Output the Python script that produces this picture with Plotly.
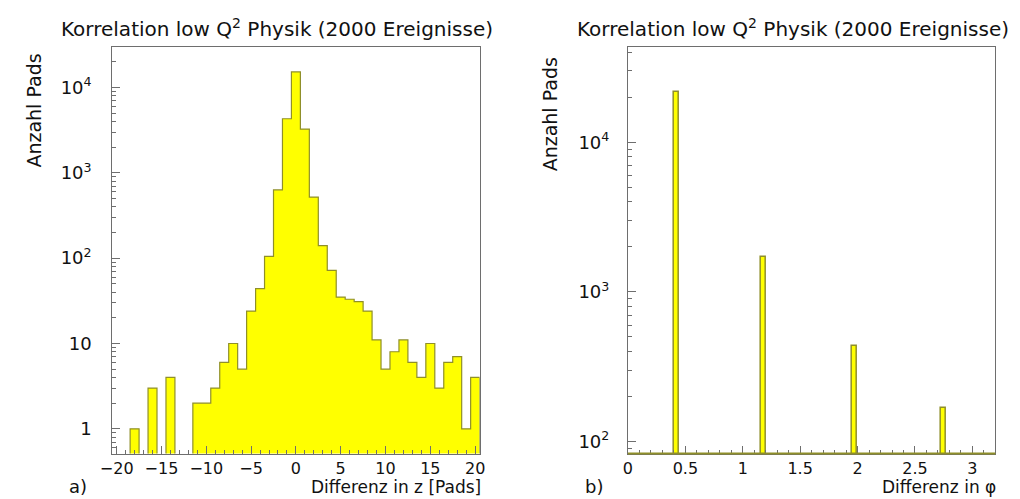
import plotly.graph_objects as go

# ---- data ----
z_centers = list(range(-20, 21))
z_counts = [0, 0, 1, 0, 3, 0, 4, 0, 0, 2, 2, 3, 6, 10, 5, 24, 44, 105, 630, 4300,
            15200, 3250, 520, 140, 72, 35, 33, 31, 24, 11, 5, 8, 11, 6, 4, 10, 3, 6, 7, 1, 4]
phi_centers = [0.42, 1.18, 1.97, 2.75]
phi_counts = [21800, 1700, 432, 168]
phi_bin_width = 0.045

title_text = "Korrelation low Q<sup>2</sup> Physik (2000 Ereignisse)"
ytitle = "Anzahl Pads"

FONT = "DejaVu Sans"
FILL = "#ffff00"
EDGE = "#8f8f2a"
FRAME = "#6e6e6e"

# step polygon for histogram a)
floor = 0.01
xs, ys = [], []
xs.append(z_centers[0] - 0.5); ys.append(floor)
for c, v in zip(z_centers, z_counts):
    vv = v if v > 0 else floor
    xs += [c - 0.5, c + 0.5]
    ys += [vv, vv]
xs.append(z_centers[-1] + 0.5); ys.append(floor)

fig = go.Figure()
fig.add_trace(go.Scatter(x=xs, y=ys, mode="lines", fill="toself", fillcolor=FILL,
                         line=dict(color=EDGE, width=1.2), xaxis="x", yaxis="y",
                         showlegend=False, hoverinfo="skip"))
fig.add_trace(go.Bar(x=phi_centers, y=phi_counts, width=phi_bin_width,
                     marker=dict(color=FILL, line=dict(color=EDGE, width=1.5)),
                     xaxis="x2", yaxis="y2", showlegend=False))
# carriers for the overlay axes that draw the long decade ticks
fig.add_trace(go.Scatter(x=[None], y=[None], xaxis="x", yaxis="y3", showlegend=False))
fig.add_trace(go.Scatter(x=[None], y=[None], xaxis="x2", yaxis="y4", showlegend=False))

W, H = 1020, 499
L1, R1 = 102 / W, 476 / W
L2, R2 = 627 / W, 1001 / W
B, T = 1 - 453.5 / H, 1 - 47 / H

tickfont = dict(family=FONT, size=16, color="#111")
ytickfont = dict(family=FONT, size=18, color="#111")
common_x = dict(showgrid=False, zeroline=False, showline=True, mirror=True, linecolor=FRAME,
                linewidth=1, ticks="inside", ticklen=8, tickcolor=FRAME, tickfont=tickfont)

def log_ticks(lo_dec, hi_dec):
    vals, texts = [], []
    for d in range(lo_dec, hi_dec + 1):
        for m in range(1, 10):
            vals.append(m * 10 ** d)
            if m == 1:
                if d == 0:
                    texts.append("1")
                elif d == 1:
                    texts.append("10")
                else:
                    texts.append("10<sup>%d</sup>" % d)
            else:
                texts.append("")
    return vals, texts

v1, t1 = log_ticks(-1, 4)
v2, t2 = log_ticks(1, 4)

ylog_common = dict(type="log", showgrid=False, zeroline=False, showline=True, mirror=True,
                   linecolor=FRAME, linewidth=1, ticks="inside", ticklen=4, tickcolor=FRAME,
                   tickfont=ytickfont, tickmode="array")
yover_common = dict(type="log", showgrid=False, zeroline=False, showline=False,
                    ticks="inside", ticklen=8, tickcolor=FRAME, showticklabels=False,
                    tickmode="array", side="left")

YR1 = [-0.289, 4.474]
YR2 = [1.92, 4.636]

fig.update_layout(
    width=W, height=H, margin=dict(l=0, r=0, t=0, b=0),
    paper_bgcolor="white", plot_bgcolor="white", bargap=0,
    xaxis=dict(domain=[L1, R1], anchor="y", range=[-20.5, 20.5], tickmode="array",
               tickvals=[-20, -15, -10, -5, 0, 5, 10, 15, 20],
               ticktext=["\u221220", "\u221215", "\u221210", "\u22125", "0", "5", "10", "15", "20"],
               minor=dict(ticks="inside", ticklen=4, dtick=1, tickcolor=FRAME), **common_x),
    yaxis=dict(domain=[B, T], anchor="x", range=YR1, tickvals=v1, ticktext=t1,
               ticklabelstandoff=16, **ylog_common),
    yaxis3=dict(overlaying="y", anchor="x", range=YR1, tickvals=[1, 10, 100, 1000, 10000],
                **yover_common),
    xaxis2=dict(domain=[L2, R2], anchor="y2", range=[0, 3.2], tickmode="array",
                tickvals=[0, 0.5, 1, 1.5, 2, 2.5, 3],
                ticktext=["0", "0.5", "1", "1.5", "2", "2.5", "3"],
                minor=dict(ticks="inside", ticklen=4, dtick=0.1, tickcolor=FRAME), **common_x),
    yaxis2=dict(domain=[B, T], anchor="x2", range=YR2, tickvals=v2, ticktext=t2,
                ticklabelstandoff=14, **ylog_common),
    yaxis4=dict(overlaying="y2", anchor="x2", range=YR2, tickvals=[100, 1000, 10000],
                **yover_common),
)

# baseline of histogram b) drawn in histogram colour
fig.add_shape(type="line", xref="x2 domain", yref="y2 domain", x0=0, x1=1, y0=0, y1=0,
              line=dict(color=EDGE, width=2))

anns = [
    dict(x=270 / W, y=1 - 28 / H, text=title_text, xanchor="center", yanchor="middle", size=20),
    dict(x=795 / W, y=1 - 28 / H, text=title_text, xanchor="center", yanchor="middle", size=20),
    dict(x=22 / W, y=1 - 52 / H, text=ytitle, textangle=-90, xanchor="center", yanchor="top", size=19),
    dict(x=548 / W, y=1 - 55 / H, text=ytitle, textangle=-90, xanchor="center", yanchor="top", size=19),
    dict(x=479 / W, y=0, text="Differenz in z [Pads]", xanchor="right", yanchor="bottom", size=17),
    dict(x=1004 / W, y=0, text="Differenz in \u03c6", xanchor="right", yanchor="bottom", size=17),
    dict(x=56 / W, y=0, text="a)", xanchor="left", yanchor="bottom", size=18),
    dict(x=581 / W, y=0, text="b)", xanchor="left", yanchor="bottom", size=18),
]
for a in anns:
    size = a.pop("size")
    fig.add_annotation(xref="paper", yref="paper", showarrow=False,
                       font=dict(family=FONT, size=size, color="#111"), **a)

fig.write_html("out.html")
